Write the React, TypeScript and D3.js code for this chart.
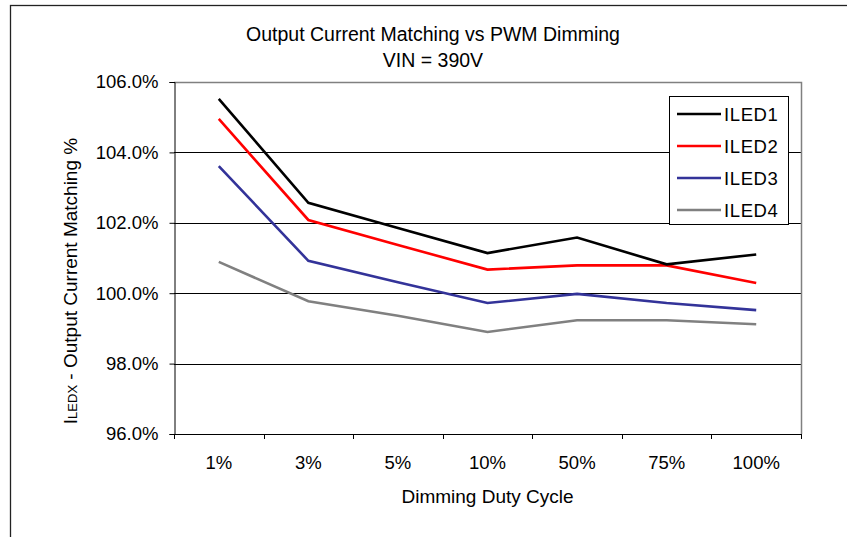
import React, { useRef, useEffect } from 'react';
import * as d3 from 'd3';

// duty cycle categories on the x axis
const categories: string[] = ['1%', '3%', '5%', '10%', '50%', '75%', '100%'];

// output current matching, in percent
const iled1: number[] = [105.52, 102.57, 101.85, 101.14, 101.58, 100.82, 101.1];
const iled2: number[] = [104.95, 102.08, 101.37, 100.67, 100.79, 100.79, 100.29];
const iled3: number[] = [103.61, 100.92, 100.31, 99.72, 99.98, 99.72, 99.52];
const iled4: number[] = [100.89, 99.77, 99.36, 98.9, 99.23, 99.23, 99.12];

const seriesNames: string[] = ['ILED1', 'ILED2', 'ILED3', 'ILED4'];
const seriesColors: string[] = ['#000000', '#ff0000', '#333399', '#808080'];

const yTicks: number[] = [96, 98, 100, 102, 104, 106];

const App: React.FC = () => {
  const svgRef = useRef<SVGSVGElement | null>(null);

  useEffect(() => {
    if (!svgRef.current) return;
    const width = 847;
    const height = 537;
    const font = '"Liberation Sans", Arial, sans-serif';
    const plot = { left: 174, right: 801, top: 82, bottom: 434 };

    const svg = d3.select(svgRef.current)
      .attr('width', width)
      .attr('height', height);
    svg.selectAll('*').remove();

    const xScale = d3.scaleBand<string>()
      .domain(categories)
      .range([plot.left, plot.right])
      .padding(0);
    const yScale = d3.scaleLinear()
      .domain([96, 106])
      .range([plot.bottom, plot.top]);
    const cx = (c: string) => (xScale(c) as number) + xScale.bandwidth() / 2;

    // chart area frame (only top and left visible)
    svg.append('rect')
      .attr('x', 10.5).attr('y', 5.5)
      .attr('width', 900).attr('height', 600)
      .attr('fill', '#fff')
      .attr('stroke', '#222').attr('stroke-width', 1.3);

    // title
    const title = svg.append('text')
      .attr('text-anchor', 'middle')
      .attr('font-family', font).attr('font-size', 19.5).attr('fill', '#000');
    title.append('tspan').attr('x', 433).attr('y', 41).text('Output Current Matching vs PWM Dimming');
    title.append('tspan').attr('x', 433).attr('y', 67).text('VIN = 390V');

    // gridlines
    svg.append('g')
      .selectAll('line')
      .data(yTicks.filter(t => t > 96 && t < 106))
      .join('line')
      .attr('x1', plot.left).attr('x2', plot.right)
      .attr('y1', d => Math.round(yScale(d)) + 0.5)
      .attr('y2', d => Math.round(yScale(d)) + 0.5)
      .attr('stroke', '#000').attr('stroke-width', 1);

    // plot area border (top, right)
    svg.append('path')
      .attr('d', `M${plot.left},${plot.top + 0.5}H${plot.right + 0.5}V${plot.bottom}`)
      .attr('fill', 'none').attr('stroke', '#808080').attr('stroke-width', 1.5);

    // y axis
    const yAxis = svg.append('g')
      .attr('transform', `translate(${plot.left + 0.5},0)`)
      .call(d3.axisLeft(yScale).tickValues(yTicks).tickSize(5).tickPadding(11)
        .tickFormat(d => d3.format('.1f')(d as number) + '%'));
    yAxis.select('.domain').attr('stroke', '#000');
    yAxis.selectAll('text').attr('font-family', font).attr('font-size', 18.5).attr('fill', '#000');

    // x axis
    const xAxis = svg.append('g')
      .attr('transform', `translate(0,${plot.bottom + 0.5})`)
      .call(d3.axisBottom(xScale).tickSize(0).tickPadding(21));
    xAxis.select('.domain').remove();
    xAxis.selectAll('text').attr('font-family', font).attr('font-size', 18.5).attr('fill', '#000');
    svg.append('line')
      .attr('x1', plot.left).attr('x2', plot.right + 1)
      .attr('y1', plot.bottom + 0.5).attr('y2', plot.bottom + 0.5)
      .attr('stroke', '#000');
    svg.append('g')
      .selectAll('line')
      .data(categories.concat(['end']))
      .join('line')
      .attr('x1', (d, i) => Math.round(plot.left + i * xScale.bandwidth()) + 0.5)
      .attr('x2', (d, i) => Math.round(plot.left + i * xScale.bandwidth()) + 0.5)
      .attr('y1', plot.bottom).attr('y2', plot.bottom + 5)
      .attr('stroke', '#000');

    // axis titles
    svg.append('text')
      .attr('x', (plot.left + plot.right) / 2).attr('y', 503)
      .attr('text-anchor', 'middle')
      .attr('font-family', font).attr('font-size', 19)
      .text('Dimming Duty Cycle');

    const yTitle = svg.append('text')
      .attr('transform', 'translate(77,281) rotate(-90)')
      .attr('text-anchor', 'middle')
      .attr('font-family', font).attr('font-size', 19);
    yTitle.append('tspan').text('I');
    yTitle.append('tspan').attr('font-size', 13).text('LEDX');
    yTitle.append('tspan').text(' - Output Current Matching %');

    // series lines
    const allSeries = [iled1, iled2, iled3, iled4];
    const line = d3.line<number>()
      .x((d, i) => cx(categories[i]))
      .y(d => yScale(d));
    // draw bottom series first so ILED1 sits on top
    [3, 2, 1, 0].forEach(k => {
      svg.append('path')
        .datum(allSeries[k])
        .attr('fill', 'none')
        .attr('stroke', seriesColors[k])
        .attr('stroke-width', 2.6)
        .attr('stroke-linejoin', 'miter')
        .attr('d', line);
    });

    // legend
    const legend = svg.append('g');
    legend.append('rect')
      .attr('x', 669.5).attr('y', 96.5)
      .attr('width', 119).attr('height', 128)
      .attr('fill', '#fff')
      .attr('stroke', '#000').attr('stroke-width', 1);
    const legendY = d3.scalePoint<string>().domain(seriesNames).range([114, 210]);
    seriesNames.forEach((name, k) => {
      const y = legendY(name) as number;
      legend.append('line')
        .attr('x1', 677).attr('x2', 721)
        .attr('y1', y).attr('y2', y)
        .attr('stroke', seriesColors[k]).attr('stroke-width', 2.6);
      legend.append('text')
        .attr('x', 724).attr('y', y + 6.5)
        .attr('font-family', font).attr('font-size', 18.5)
        .attr('letter-spacing', 0.6)
        .text(name);
    });
  }, []);

  return (
    <svg ref={svgRef} style={{ position: 'absolute', left: 0, top: 0, background: '#fff' }}></svg>
  );
};

export default App;
